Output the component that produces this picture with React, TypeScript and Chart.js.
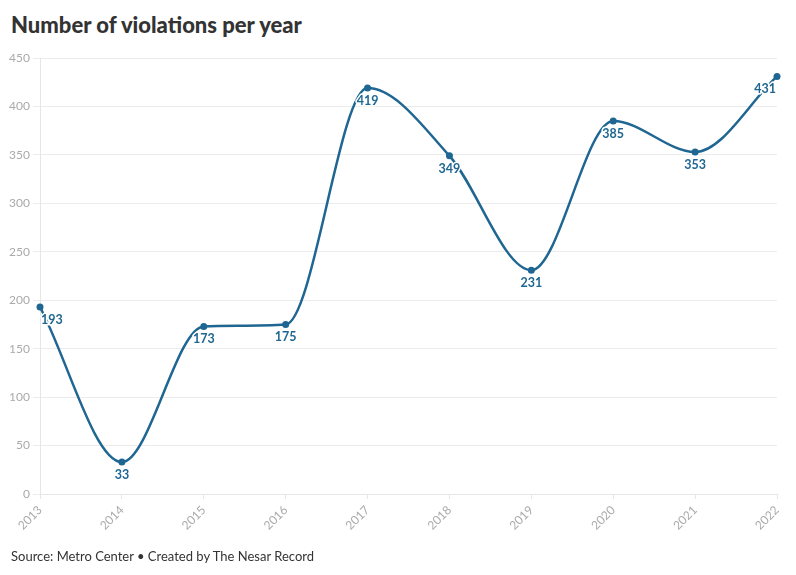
import React, { useEffect, useRef } from "react";
import { Chart, registerables } from "chart.js";

Chart.register(...registerables);

const years = ["2013", "2014", "2015", "2016", "2017", "2018", "2019", "2020", "2021", "2022"];
const violations = [193, 33, 173, 175, 419, 349, 231, 385, 353, 431];
const yTicks = [0, 50, 100, 150, 200, 250, 300, 350, 400, 450];

const LINE = "#1f6792";
const FONT = "Lato, 'Noto Sans', sans-serif";

const labelPlugin = {
  id: "pointLabels",
  afterDatasetsDraw(chart: any) {
    const ctx = chart.ctx;
    const area = chart.chartArea;
    const meta = chart.getDatasetMeta(0);
    ctx.save();
    ctx.font = `bold 12.5px ${FONT}`;
    ctx.textBaseline = "middle";
    ctx.textAlign = "center";
    meta.data.forEach((pt: any, i: number) => {
      const text = String(violations[i]);
      const w = ctx.measureText(text).width;
      let x = pt.x;
      x = Math.max(area.left + w / 2 + 1, Math.min(area.right - w / 2 - 1, x));
      const y = pt.y + 13;
      ctx.lineWidth = 3;
      ctx.strokeStyle = "#ffffff";
      ctx.lineJoin = "round";
      ctx.strokeText(text, x, y);
      ctx.fillStyle = LINE;
      ctx.fillText(text, x, y);
    });
    ctx.restore();
  },
};

export default function App() {
  const ref = useRef<HTMLCanvasElement>(null);
  useEffect(() => {
    if (!ref.current) return;
    const chart = new Chart(ref.current, {
      type: "line",
      data: {
        labels: years,
        datasets: [
          {
            data: violations,
            borderColor: LINE,
            backgroundColor: LINE,
            borderWidth: 2.5,
            pointRadius: 3.5,
            pointHoverRadius: 3.5,
            pointBackgroundColor: LINE,
            pointBorderWidth: 0,
            cubicInterpolationMode: "monotone",
            fill: false,
            clip: false as any,
          },
        ],
      },
      options: {
        animation: false,
        responsive: false,
        maintainAspectRatio: false,
        devicePixelRatio: 1,
        layout: { padding: { top: 58, right: 19, left: 0, bottom: 0 } },
        plugins: {
          legend: { display: false },
          tooltip: { enabled: false },
          title: { display: false },
        },
        scales: {
          x: {
            offset: false,
            grid: { drawOnChartArea: false, drawTicks: true, tickLength: 5, color: "#e6e6e6" },
            border: { display: true, color: "#e6e6e6" },
            ticks: {
              color: "#aaaaaa",
              font: { family: FONT, size: 12 },
              minRotation: 45,
              maxRotation: 45,
              padding: 4,
              autoSkip: false,
            },
            afterFit(scale: any) {
              scale.height = 81;
            },
          },
          y: {
            min: 0,
            max: 450,
            afterBuildTicks(scale: any) {
              scale.ticks = yTicks.map((v) => ({ value: v }));
            },
            grid: { color: "#ececec", tickLength: 7, lineWidth: 1 },
            border: { display: true, color: "#e6e6e6" },
            ticks: {
              color: "#aaaaaa",
              font: { family: FONT, size: 12 },
              padding: 3,
            },
            afterFit(scale: any) {
              scale.width = 40;
            },
          },
        },
      },
      plugins: [labelPlugin],
    });
    return () => chart.destroy();
  }, []);

  return (
    <div style={{ position: "relative", width: 796, height: 575, margin: -8, background: "#fff", overflow: "hidden" }}>
      <div
        style={{
          position: "absolute",
          left: 11,
          top: 11,
          fontFamily: FONT,
          fontWeight: 900,
          fontSize: 22,
          color: "#333333",
          lineHeight: "28px",
          whiteSpace: "nowrap",
        }}
      >
        Number of violations per year
      </div>
      <canvas ref={ref} width={796} height={575} style={{ position: "absolute", left: 0, top: 0, width: 796, height: 575 }} />
      <div
        style={{
          position: "absolute",
          left: 11,
          top: 546,
          fontFamily: FONT,
          fontSize: 13,
          color: "#333333",
          lineHeight: "20px",
          whiteSpace: "nowrap",
        }}
      >
        Source: Metro Center • Created by The Nesar Record
      </div>
    </div>
  );
}
